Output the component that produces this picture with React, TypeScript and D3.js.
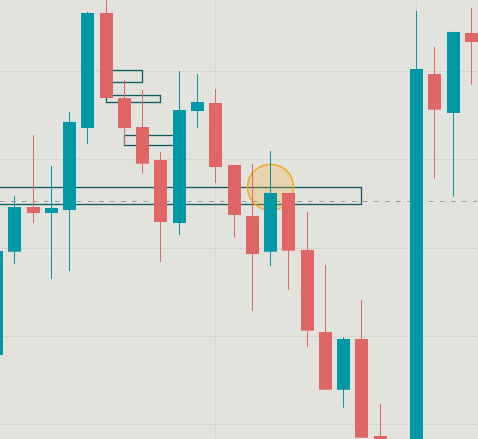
import React from "react";
import * as d3 from "d3";

const W = 478;
const H = 439;

// candle index (time slot) and OHLC values
const idx = [0,1,2,3,4,5,6,7,8,9,10,11,12,13,14,15,16,17,18,19,20,21,22,23,24,25,26];
const opens  = [87.85, 99.54, 104.60, 103.92, 104.26, 113.55, 126.57, 116.94, 113.66, 109.92, 102.79, 115.47, 116.38, 109.36, 103.58, 99.54, 106.19, 99.74, 90.45, 83.92, 89.66, 78.68, 75.0, 70.0, 119.66, 115.25, 124.30];
const highs  = [100.19, 105.85, 112.75, 109.25, 115.36, 126.68, 128.60, 118.98, 117.85, 110.83, 120.0, 119.66, 117.96, 109.36, 109.47, 110.94, 106.19, 104.04, 98.04, 89.89, 94.07, 82.30, 76.0, 126.79, 122.72, 124.42, 127.13];
const lows   = [87.06, 98.15, 102.79, 96.45, 97.36, 111.74, 116.94, 111.62, 108.37, 98.38, 101.43, 113.58, 107.32, 101.13, 92.83, 97.92, 95.21, 88.79, 83.92, 81.88, 78.49, 73.7, 68.0, 69.0, 107.81, 105.77, 118.45];
const closes = [99.62, 104.60, 103.92, 104.49, 114.23, 126.57, 116.94, 113.55, 109.51, 102.91, 115.58, 116.49, 109.13, 103.70, 99.28, 106.19, 99.66, 90.60, 83.92, 89.66, 78.49, 74.83, 70.0, 120.23, 115.62, 124.42, 123.28];

// zones (start index, end index, top price, bottom price)
const zoneStart = [6, 6, 7, -1];
const zoneEnd = [8, 9, 10, 20];
const zoneTop = [120.08, 117.25, 112.72, 106.83];
const zoneBottom = [118.72, 116.46, 111.59, 104.94];

const refLevel = 105.25;
const markerIndex = 15;
const markerPrice = 106.85;

const gridPrices = [80, 90, 100, 110, 120];
const gridIndices = [12, 23];

const UP = "#0097a7";
const DOWN = "#e06666";
const ZONE = "#0d5a5f";
const BG = "#e3e3de";
const GRID = "#d6d6d1";

export default function App() {
  const x = d3.scaleLinear().domain([0, 26]).range([-3.5, 471.5]);
  const y = d3.scaleLinear().domain([80, 120]).range([424.33, 71]);
  const bodyW = 13;
  const cx = (i: number) => Math.round(x(i) - 0.5) + 0.5;

  return (
    <svg width={W} height={H} style={{ position: "absolute", left: 0, top: 0, display: "block" }}>
      <rect x={0} y={0} width={W} height={H} fill={BG} />
      {gridPrices.map((p) => (
        <line key={"gh" + p} x1={0} x2={W} y1={Math.round(y(p)) + 0.5} y2={Math.round(y(p)) + 0.5} stroke={GRID} strokeWidth={1} />
      ))}
      {gridIndices.map((i) => (
        <line key={"gv" + i} x1={cx(i)} x2={cx(i)} y1={0} y2={H} stroke={GRID} strokeWidth={1} />
      ))}
      <line x1={0} x2={W} y1={Math.round(y(refLevel)) + 0.5} y2={Math.round(y(refLevel)) + 0.5} stroke="#9a9a9a" strokeWidth={1.2} strokeDasharray="4.5 6.5" />
      {zoneStart.map((s, k) => {
        const x0 = cx(s);
        const x1 = cx(zoneEnd[k]);
        const y0 = Math.round(y(zoneTop[k])) + 0.5;
        const y1 = Math.round(y(zoneBottom[k])) + 0.5;
        return <rect key={"z" + k} x={x0} y={y0} width={x1 - x0} height={y1 - y0} fill="none" stroke={ZONE} strokeWidth={1.3} />;
      })}
      <circle cx={x(markerIndex)} cy={y(markerPrice)} r={23} fill="rgba(245,166,35,0.25)" stroke="#f5a623" strokeWidth={1.5} />
      {idx.map((i) => {
        const o = opens[i], h = highs[i], l = lows[i], c = closes[i];
        const up = c >= o;
        const col = up ? UP : DOWN;
        const xc = cx(i);
        const top = y(Math.max(o, c));
        const bot = y(Math.min(o, c));
        return (
          <g key={"c" + i}>
            <line x1={xc} x2={xc} y1={y(h)} y2={y(l)} stroke={col} strokeWidth={1} />
            <rect x={xc - bodyW / 2} y={top} width={bodyW} height={Math.max(1, bot - top)} fill={col} />
          </g>
        );
      })}
    </svg>
  );
}
